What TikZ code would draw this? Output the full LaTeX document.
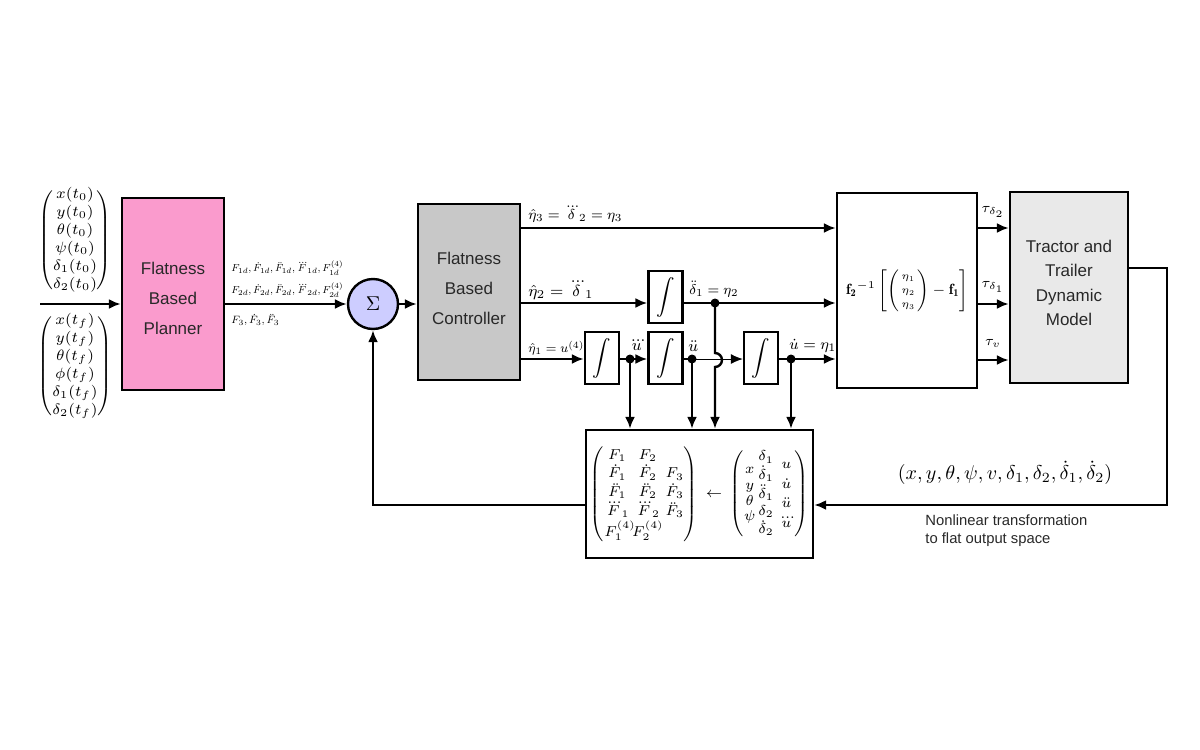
\RequirePackage{fix-cm}
\documentclass[tikz,border=0pt]{standalone}
\usepackage{amsmath}
\usepackage{graphicx}
\usepackage{fontspec}
\newfontfamily\arial{Liberation Sans}
\usetikzlibrary{arrows.meta}
\definecolor{pinkp}{RGB}{250,155,205}
\definecolor{lav}{RGB}{205,205,255}
\definecolor{ctrlgray}{RGB}{200,200,200}
\definecolor{modgray}{RGB}{233,233,233}
\definecolor{txtgray}{RGB}{40,40,40}
\newcommand\tdd[1]{\mathord{\dddot{#1}}}
\newcommand\cm{{,}\,}
\begin{document}
\begin{tikzpicture}[x=0.5pt,y=-0.5pt,
  arr/.style={-{Latex[length=6pt,width=5pt]}},
  thickline/.style={line width=1.2pt},
  thinline/.style={line width=0.5pt},
  blk/.style={draw,line width=1.2pt,inner sep=0pt},
  btxt/.style={inner sep=0pt,align=center,text=txtgray,font=\arial\fontsize{8.5}{15}\selectfont},
  intg/.style={draw,line width=1.2pt,inner sep=0pt,minimum width=17pt,minimum height=26pt,
               font=\fontsize{9}{10}\selectfont},
  lbl/.style={inner sep=1pt,font=\fontsize{8}{9}\selectfont},
  tlbl/.style={inner sep=0pt,font=\fontsize{7}{8}\selectfont},
  flbl/.style={inner sep=0pt,anchor=west,font=\fontsize{8}{9}\selectfont},
  vec/.style={inner sep=0pt,font=\fontsize{7.5}{9}\selectfont},
  dotc/.style={circle,fill,inner sep=0pt,minimum size=4.5pt}
]
\useasboundingbox (0,0) rectangle (1200,750);

% left vectors
\node[vec] (v0) at (75,240) {$\begin{pmatrix} x(t_0)\\ y(t_0)\\ \theta(t_0)\\ \psi(t_0)\\ \delta_1(t_0)\\ \delta_2(t_0)\end{pmatrix}$};
\node[vec] (vf) at (75,366) {$\begin{pmatrix} x(t_f)\\ y(t_f)\\ \theta(t_f)\\ \phi(t_f)\\ \delta_1(t_f)\\ \delta_2(t_f)\end{pmatrix}$};

% blocks
\node[blk,fill=pinkp,minimum width=51pt,minimum height=96pt] (P) at (173,294) {};
\node[btxt] (Pt) at (173,298) {Flatness\\Based\\Planner};
\node[draw,line width=1.2pt,circle,fill=lav,minimum size=25pt,inner sep=0pt,font=\fontsize{10}{12}\selectfont] (S) at (373,304) {$\Sigma$};
\node[blk,fill=ctrlgray,minimum width=51pt,minimum height=88pt] (C) at (469,292) {};
\node[btxt] (Ct) at (469,288) {Flatness\\Based\\Controller};
\node[intg] (I1) at (665.5,297) {$\displaystyle\int$};
\node[intg] (I2) at (602,358) {$\displaystyle\int$};
\node[intg] (I3) at (665.5,358) {$\displaystyle\int$};
\node[intg] (I4) at (761,358) {$\displaystyle\int$};
\node[draw,line width=1.2pt,minimum width=70pt,minimum height=97.5pt,inner sep=0pt,font=\fontsize{8.5}{10}\selectfont] (F) at (907,290.5)
  {\resizebox{61pt}{!}{$\mathbf{f_2}^{-1}\left[\left(\def\arraystretch{0.82}\begin{array}{@{\,}c@{\,}}\scriptstyle\eta_1\\ \scriptstyle\eta_2\\ \scriptstyle\eta_3\end{array}\right)-\mathbf{f_1}\right]$}};
\node[blk,fill=modgray,minimum width=59pt,minimum height=95.5pt] (M) at (1069,287.5) {};
\node[btxt,font=\arial\fontsize{8.5}{12.3}\selectfont] (Mt) at (1069,283) {Tractor and\\Trailer\\Dynamic\\Model};
\node[draw,line width=1.2pt,minimum width=113.5pt,minimum height=64pt,inner sep=0pt,font=\fontsize{7.2}{9.3}\selectfont] (T) at (699.5,494)
  {$\setlength\arraycolsep{0.5pt}\begin{pmatrix} F_1 & F_2 & \\ \dot F_1 & \dot F_2 & F_3\\ \ddot F_1 & \ddot F_2 & \dot F_3\\ \dddot F_1 & \dddot F_2 & \ddot F_3\\ F_1^{(4)}\!\! & F_2^{(4)} & \end{pmatrix}
   \,\leftarrow\,
   \left(\setlength\arraycolsep{0pt}{\def\arraystretch{0.85}\begin{array}{c}x\\ y\\ \theta\\ \psi\end{array}}\,
   {\def\arraystretch{0.92}\begin{array}{c}\delta_1\\ \dot\delta_1\\ \ddot\delta_1\\ \delta_2\\ \dot\delta_2\end{array}}\;
   {\def\arraystretch{1.05}\begin{array}{c}u\\ \dot u\\ \ddot u\\ \dddot u\end{array}}\right)$};

% level coordinates
\coordinate (yin) at (40,304);
\coordinate (y3) at (0,228);
\coordinate (y2) at (0,303);
\coordinate (y1) at (0,359);
\coordinate (d2) at (715,303);
\coordinate (d3) at (630,359);
\coordinate (d4) at (692,359);
\coordinate (d5) at (791,359);
\coordinate (to2) at (0,228);
\coordinate (to1) at (0,304);
\coordinate (tov) at (0,360);
\coordinate (mo) at (1167,268);
\coordinate (rc) at (1167,505);
\coordinate (fb) at (373,505);
\coordinate (hs) at (715,353);

% connectors
\draw[thickline,arr] (yin) -- (yin -| P.west);
\draw[thickline,arr] (P.east |- S.west) -- (S.west);
\draw[thickline,arr] (S.east) -- (S.east -| C.west);
\draw[thickline,arr] (C.east |- y3) -- (F.west |- y3);
\draw[thickline,arr] (C.east |- y2) -- (I1.west |- y2);
\draw[thickline,arr] (I1.east |- y2) -- (F.west |- y2);
\draw[thickline,arr] (C.east |- y1) -- (I2.west |- y1);
\draw[thickline,arr] (I2.east |- y1) -- (I3.west |- y1);
\draw[thickline] (I3.east |- y1) -- (d4);
\draw[thinline,arr] (d4) -- (I4.west |- y1);
\draw[thickline,arr] (I4.east |- y1) -- (F.west |- y1);
\draw[thickline,arr] (d3) -- (d3 |- T.north);
\draw[thickline,arr] (d4) -- (d4 |- T.north);
\draw[thickline,arr] (d5) -- (d5 |- T.north);
\draw[thickline,arr] (d2) -- (hs) arc[start angle=90,end angle=-90,radius=3.5pt] -- (d2 |- T.north);
\draw[thickline,arr] (F.east |- to2) -- (M.west |- to2);
\draw[thickline,arr] (F.east |- to1) -- (M.west |- to1);
\draw[thickline,arr] (F.east |- tov) -- (M.west |- tov);
\draw[thickline,arr] (M.east |- mo) -- (mo) -- (rc) -- (rc -| T.east);
\draw[thickline,arr] (T.west |- fb) -- (fb) -- (S.south);

% dots
\node[dotc] at (d2) {};
\node[dotc] at (d3) {};
\node[dotc] at (d4) {};
\node[dotc] at (d5) {};

% labels
\node[flbl] (l1) at (231,268) {\resizebox{56pt}{!}{$F_{1d}\cm\dot F_{1d}\cm\ddot F_{1d}\cm\tdd F_{1d}\cm F_{1d}^{(4)}$}};
\node[flbl] (l2) at (231,290) {\resizebox{56pt}{!}{$F_{2d}\cm\dot F_{2d}\cm\ddot F_{2d}\cm\tdd F_{2d}\cm F_{2d}^{(4)}$}};
\node[flbl] (l3) at (231,320) {\resizebox{24pt}{!}{$F_3\cm\dot F_3\cm\ddot F_3$}};
\node[lbl,anchor=west] (e3) at (526,215) {\resizebox{47pt}{!}{$\hat\eta_3=\tdd\delta_2=\eta_3$}};
\node[lbl,anchor=west] (e2) at (526,291) {\resizebox{32.5pt}{!}{$\hat\eta_2=\dddot\delta_1$}};
\node[lbl,anchor=west] (e1) at (526,348) {\resizebox{28pt}{!}{$\hat\eta_1=u^{(4)}$}};
\node[lbl,anchor=west] (e2b) at (687,289) {\resizebox{24.5pt}{!}{$\ddot\delta_1=\eta_2$}};
\node[lbl,anchor=west] (u3) at (626,346) {$\tdd u$};
\node[lbl,anchor=west] (u2) at (686,346) {$\ddot u$};
\node[lbl,anchor=west] (u1) at (787,346) {\resizebox{23.5pt}{!}{$\dot u=\eta_1$}};
\node[tlbl] (t2) at (993,212) {$\tau_{\delta_2}$};
\node[tlbl] (t1) at (993,287) {$\tau_{\delta_1}$};
\node[tlbl] (tv) at (993,343) {$\tau_v$};
\node[inner sep=0pt,font=\fontsize{10}{12}\selectfont] (st) at (1005,473) {$(x,y,\theta,\psi,v,\delta_1,\delta_2,\dot\delta_1,\dot\delta_2)$};
\node[inner sep=0pt,anchor=north west,align=left,text=txtgray,font=\arial\fontsize{7.4}{9}\selectfont] (nt) at (925,514) {Nonlinear transformation\\to flat output space};
\end{tikzpicture}
\end{document}
